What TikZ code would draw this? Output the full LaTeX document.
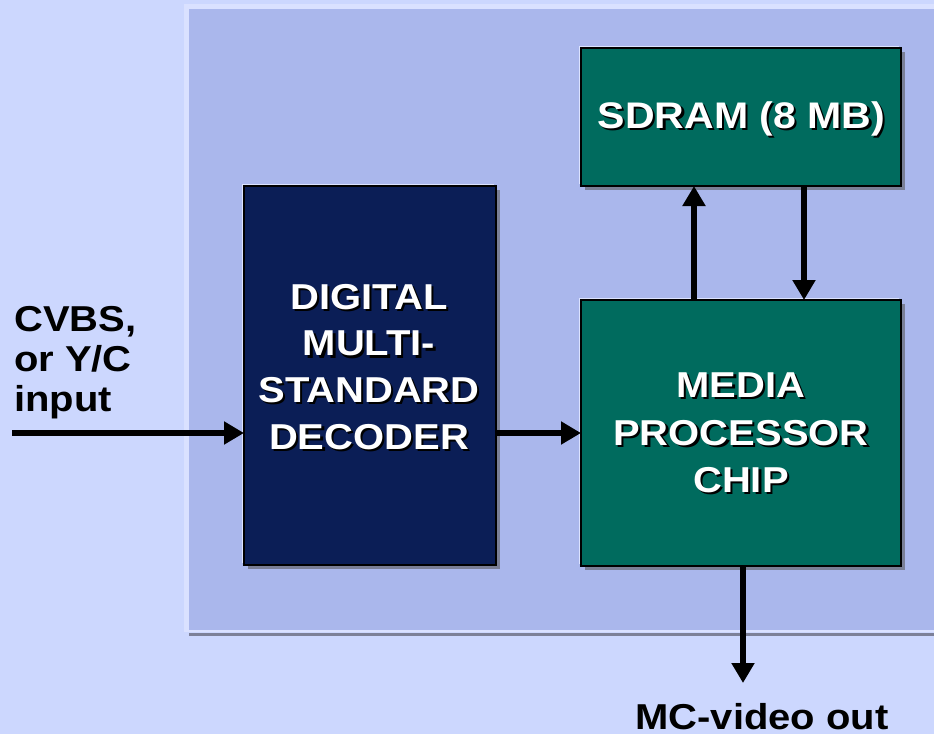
\documentclass[tikz,border=0pt]{standalone}
\usepackage{fontspec}
\newfontfamily\wideface{Liberation Sans}[FakeStretch=1.11]
\usetikzlibrary{arrows.meta}

\definecolor{pagebg}{HTML}{CCD7FE}
\definecolor{panelrim}{HTML}{DAE1FF}
\definecolor{panelfill}{HTML}{AAB7EC}
\definecolor{panelshade}{HTML}{7C8098}
\definecolor{boxlight}{HTML}{DCE3FF}
\definecolor{boxshade}{HTML}{7A7F96}
\definecolor{decoderblue}{HTML}{0B1E56}
\definecolor{chipgreen}{HTML}{006B5E}

% white caption with a dark drop shadow
\newcommand\dropshadow[1]{\leavevmode\rlap{\kern2.2pt\raisebox{-2.2pt}{\color{black}#1}}\textcolor{white}{#1}}

\tikzset{
  block/.style={draw=black, line width=2.5pt, inner sep=0pt, outer sep=0pt,
    preaction={fill=boxshade, transform canvas={shift={(4pt,-4pt)}}},
    preaction={fill=boxlight, transform canvas={shift={(-2.5pt,2.5pt)}}}},
  boxtext/.style={inner sep=0pt, align=center,
    font=\wideface\bfseries\fontsize{36pt}{46.7pt}\selectfont},
  label/.style={inner sep=0pt, text=black,
    font=\wideface\bfseries\fontsize{36pt}{40pt}\selectfont},
  arr/.style={line width=6pt, -{Triangle[length=20pt,width=22pt]}}
}

\begin{document}
\begin{tikzpicture}[x=1pt,y=-1pt]
\useasboundingbox (0,0) rectangle (934,734);
\fill[pagebg] (0,0) rectangle (934,734);

% raised panel behind the blocks
\fill[panelrim] (184,4) rectangle (934,632);
\fill[panelfill] (189,9) rectangle (934,630);
\fill[panelshade] (189,633) rectangle (934,636);

% blocks
\node[block, fill=decoderblue, minimum width=252pt, minimum height=379pt] (decoder) at (370,375.5) {};
\node[block, fill=chipgreen, minimum width=320pt, minimum height=266pt] (media) at (741,433) {};
\node[block, fill=chipgreen, minimum width=320pt, minimum height=138pt] (sdram) at (741,117) {};

% block captions
\node[boxtext] (decodertext) at (369,368) {\dropshadow{DIGITAL}\\\dropshadow{MULTI-}\\\dropshadow{STANDARD}\\\dropshadow{DECODER}};
\node[boxtext, font=\wideface\bfseries\fontsize{36pt}{47.5pt}\selectfont] (mediatext) at (741,434) {\dropshadow{MEDIA}\\\dropshadow{PROCESSOR}\\\dropshadow{CHIP}};
\node[boxtext, font=\wideface\bfseries\fontsize{37pt}{46pt}\selectfont, anchor=base] (sdramtext) at (741.5,128) {\dropshadow{SDRAM (8 MB)}};

% input and output labels
\node[label, align=left, anchor=north west] (inlabel) at (14,306) {CVBS,\\or Y/C\\input};
\node[label, anchor=base] (outlabel) at (762,729) {MC-video out};

% signal flow
\coordinate (src) at (12,433);
\coordinate (out) at (743,683);
\draw[arr] (src) -- (src -| decoder.west);
\draw[arr] (decoder.east |- media.west) -- (media.west);
\draw[arr] ([xshift=-47pt]media.north) -- ([xshift=-47pt]sdram.south);
\draw[arr] ([xshift=63pt]sdram.south) -- ([xshift=63pt]media.north);
\draw[arr] (media.south -| out) -- (out);
\end{tikzpicture}
\end{document}
